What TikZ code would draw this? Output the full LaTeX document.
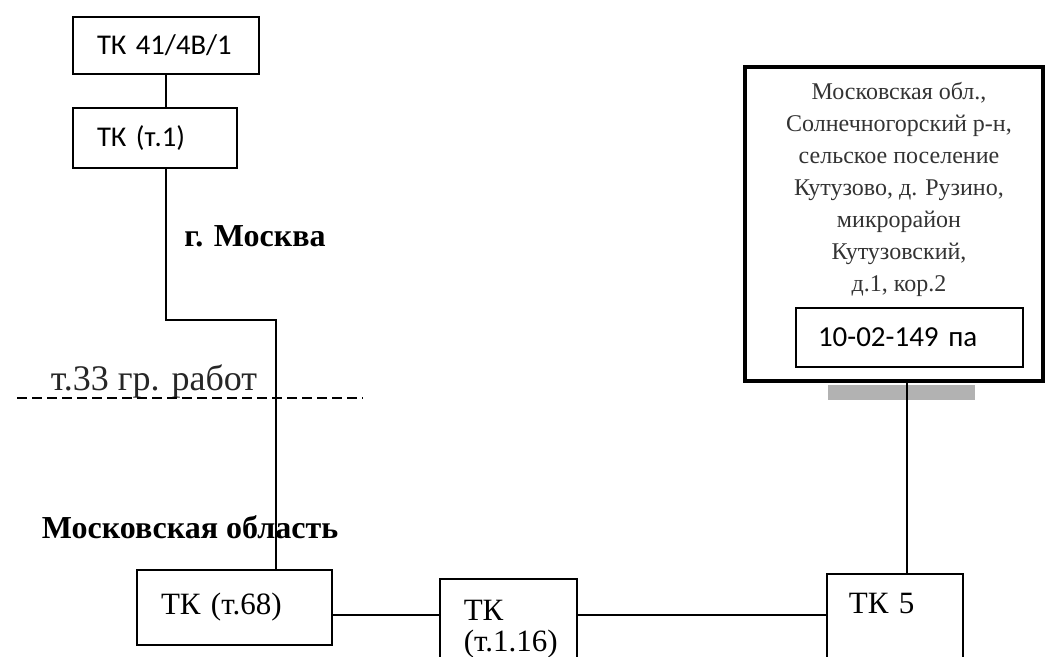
\documentclass[tikz,border=0pt]{standalone}
\usepackage{fontspec}
\setmainfont{Liberation Serif}
\newfontfamily\calibri{Carlito}
\usetikzlibrary{positioning,calc}

\begin{document}
\begin{tikzpicture}[x=0.5pt, y=-0.5pt]

    \tikzstyle{tk} = [rectangle, draw=black, line width=0.8pt, inner xsep=12pt, align=left]
    \tikzstyle{cal} = [font=\calibri\fontsize{14.3}{17}\selectfont]
    \tikzstyle{tnr} = [font=\fontsize{15.5}{15.5}\selectfont]
    \tikzstyle{region} = [font=\fontsize{16}{18}\selectfont\bfseries]
    \tikzstyle{cable} = [line width=1.3pt]

    \useasboundingbox (0,0) rectangle (1048,657);
    \clip (0,0) rectangle (1048,657);

    \node (tk41)  [tk, cal, text width=69pt, minimum height=28.5pt]  at (166,45.5)  {ТК 41/4В/1};
    \node (tk1)   [tk, cal, text width=58pt, minimum height=30pt]    at (155,138)   {ТК (т.1)};

    \node (tk68)  [tk, tnr, text width=73.5pt, minimum height=37.5pt] at (234.5,607.5) {ТК (т.68)};
    \node (tk116) [tk, tnr, anchor=north west, inner ysep=10.5pt, text width=44.5pt, text depth=30pt] at (439,578) {ТК\\(т.1.16)};
    \node (tk5)   [tk, tnr, anchor=north west, inner xsep=11pt, inner ysep=9.5pt, text width=46pt, text depth=40pt] at (826,573) {ТК 5};

    \fill[gray!60] (828,385) rectangle (975,400);
    \node (site)  [draw=black, line width=2pt, minimum width=149pt, minimum height=157pt] at (894,224) {};
    \node (addr)  [align=center, text=black!80, font=\fontsize{12}{16}\selectfont] at (899,189)
        {Московская обл.,\\Солнечногорский р-н,\\сельское поселение\\Кутузово, д. Рузино,\\микрорайон\\Кутузовский,\\д.1, кор.2};
    \node (code)  [tk, font=\calibri\fontsize{14.5}{17}\selectfont, inner xsep=11pt, text width=91.5pt, minimum height=29.5pt] at (909.5,337.5) {10-02-149 па};

    \node (msk)    [region] at (255,236) {г. Москва};
    \node (border) [font=\fontsize{18}{20}\selectfont, text=black!85] at (154,381) {т.33 гр. работ};
    \node (mo)     [region] at (190,527) {Московская область};

    \draw[line width=0.8pt, dash pattern=on 5pt off 2.5pt] (17,398) -- (363,398);

    \coordinate (bend) at (276,320);
    \coordinate (join) at ([yshift=-3.75pt]tk68.east);

    \draw[cable] (tk41.south) -- (tk41.south |- tk1.north);
    \draw[cable] (tk1.south -| tk41.south) |- (bend) -- (bend |- tk68.north);
    \draw[cable] (join) -- (join -| tk116.west);
    \draw[cable] (join -| tk116.east) -- (join -| tk5.west);
    \draw[cable] ([xshift=6pt]tk5.north) -- ([xshift=6pt]tk5.north |- site.south);
\end{tikzpicture}
\end{document}
